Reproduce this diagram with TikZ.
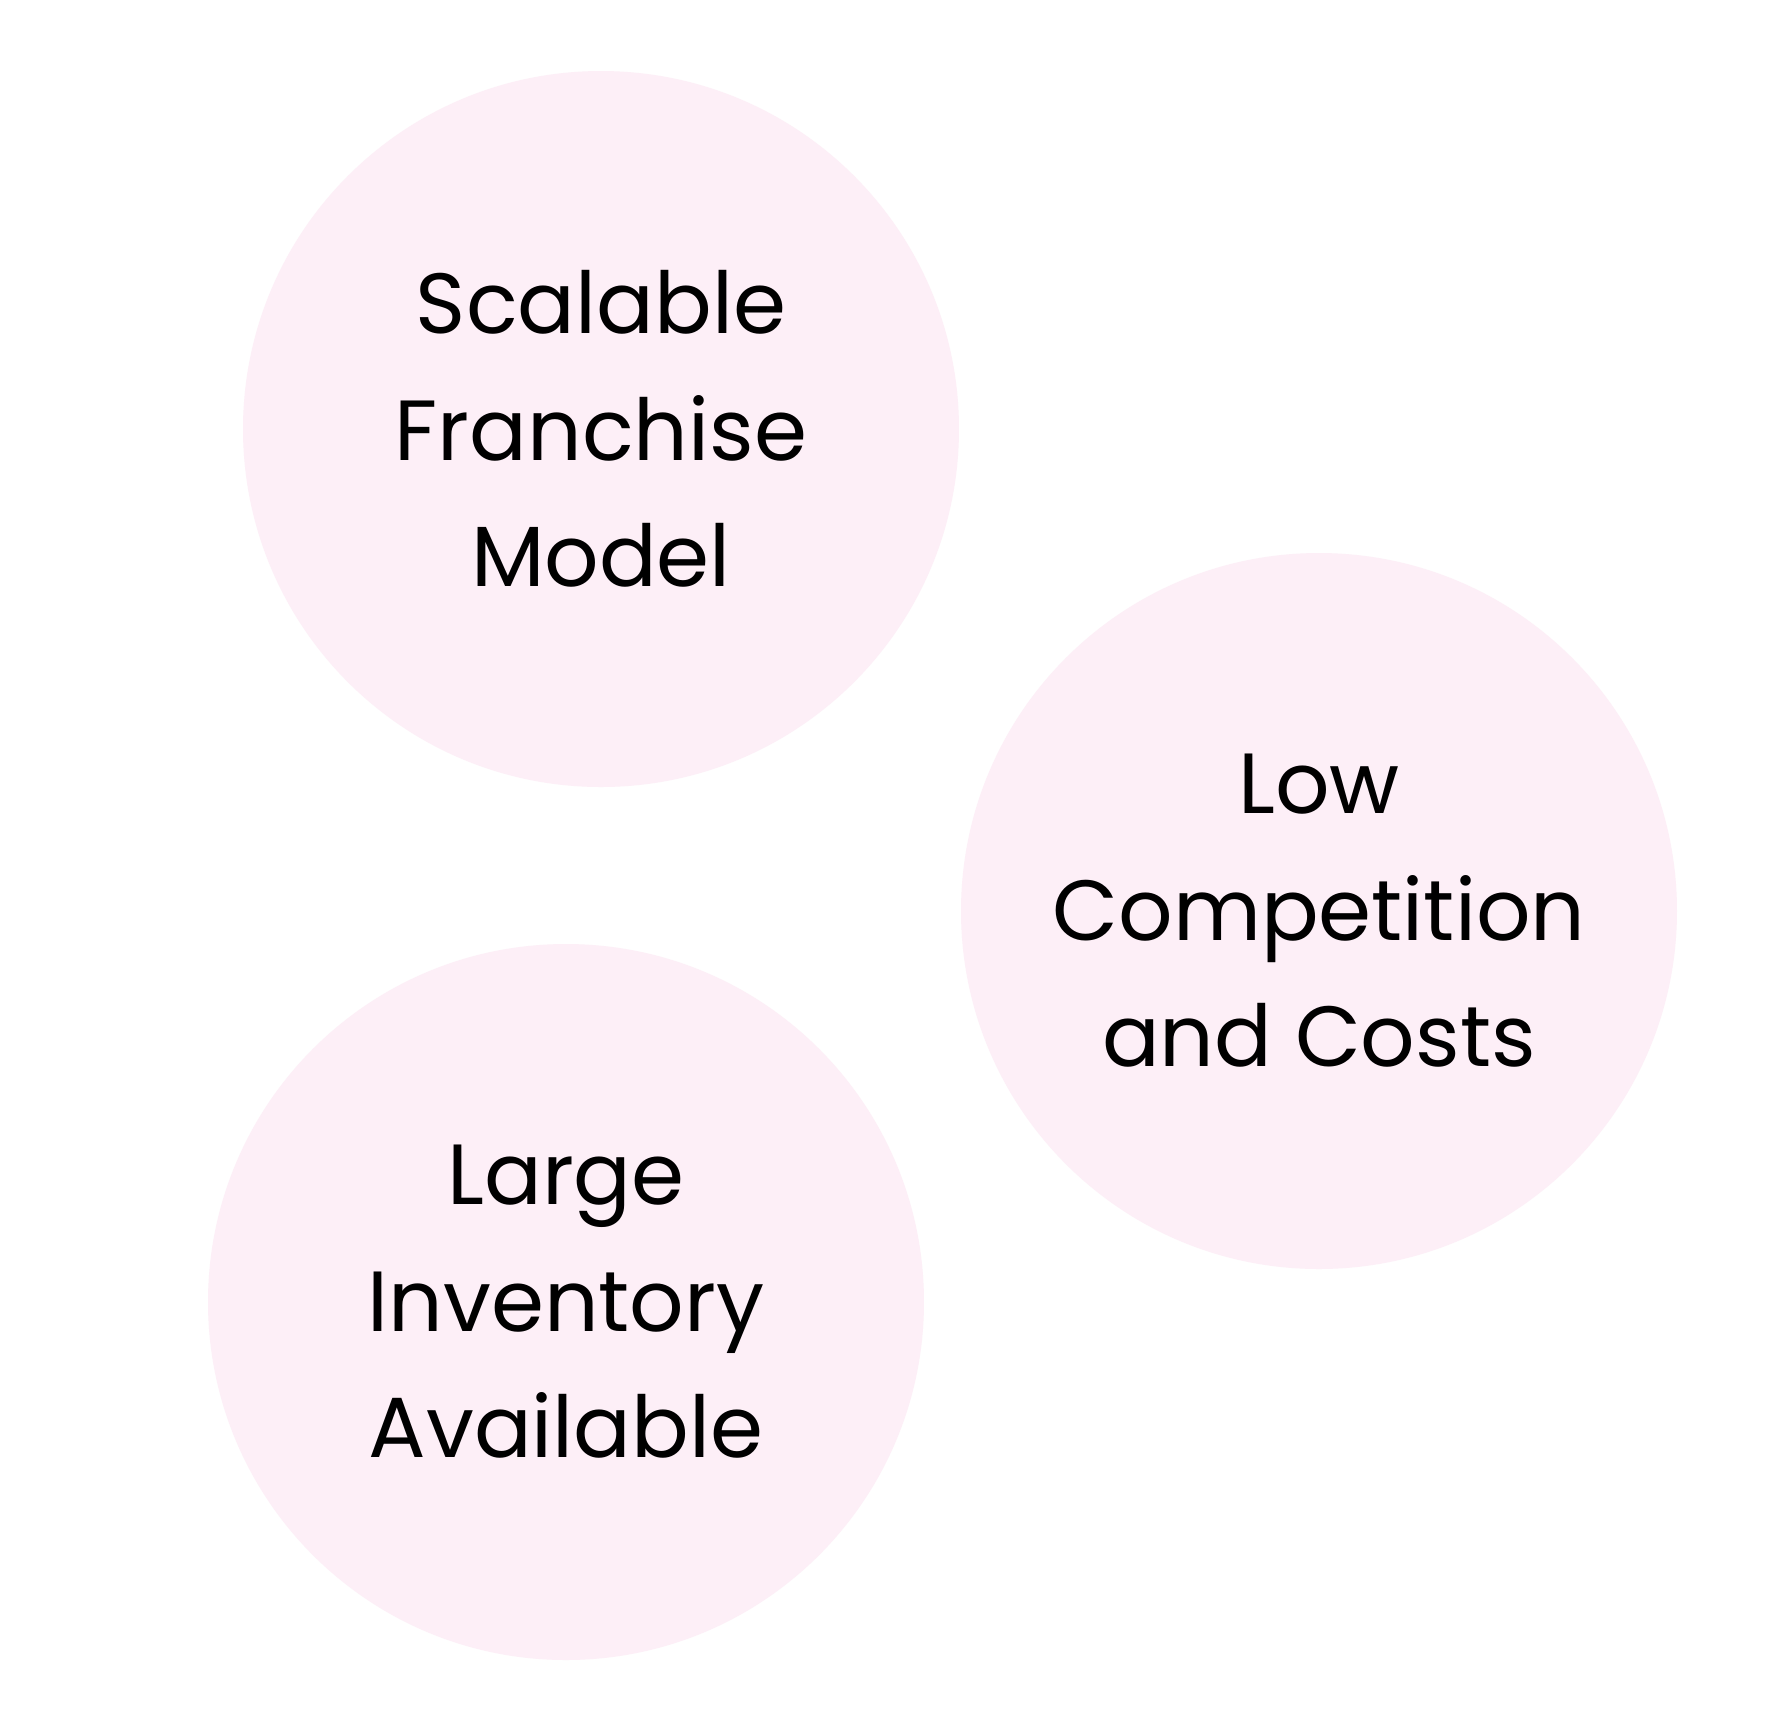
\documentclass[tikz,border=0pt]{standalone}
\usepackage{fontspec}
\setmainfont{Poppins}
\usepackage{tikz}
\usetikzlibrary{positioning}
\usepackage{xcolor}
\definecolor{BubblePink}{HTML}{FDEFF7}
\definecolor{TextDark}{HTML}{000000}
\tikzset{
  bubble/.style={circle,fill=BubblePink,minimum size=71.6mm,inner sep=0pt,align=center,text=TextDark,font=\fontsize{24.3pt}{36pt}\selectfont}
}
\begin{document}
\begin{tikzpicture}[x=0.1mm,y=-0.1mm]
\useasboundingbox[fill=white] (0,0) rectangle (1778,1726);
\node[bubble] (scalable) at (601,429) {Scalable\\Franchise\\Model};
\node[bubble] (lowcost) at (1319,911) {Low\\Competition\\and Costs};
\node[bubble] (inventory) at (566,1302) {Large\\Inventory\\Available};
\end{tikzpicture}
\end{document}
